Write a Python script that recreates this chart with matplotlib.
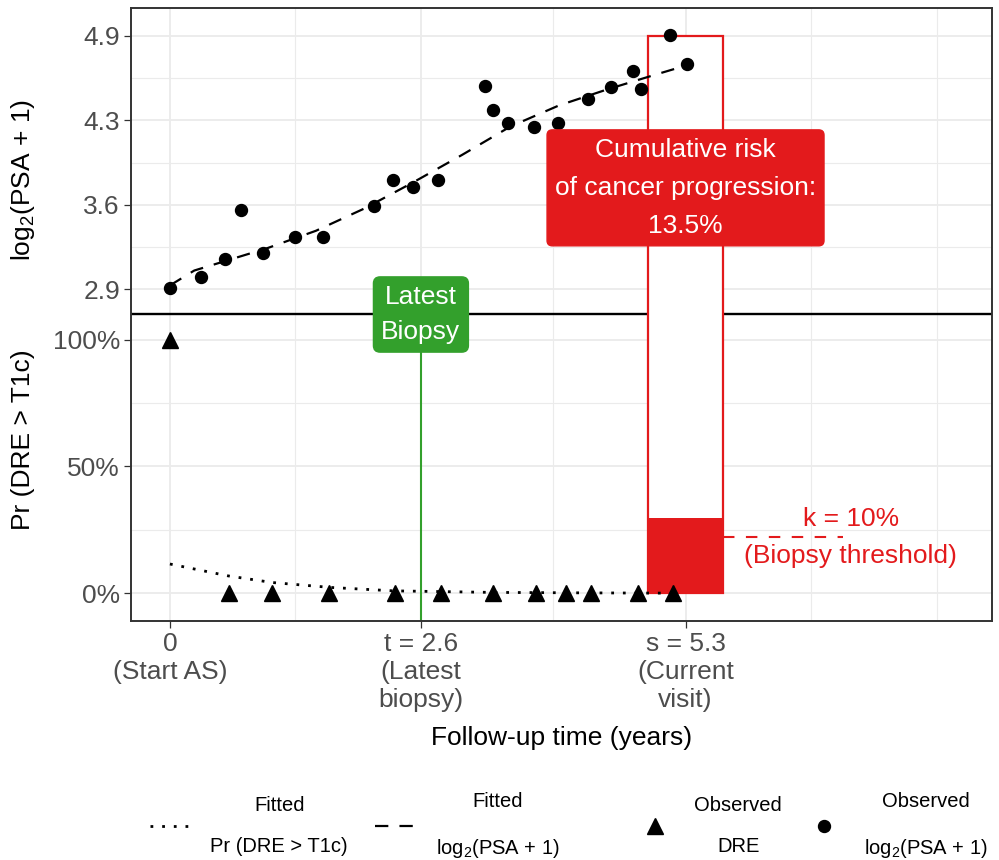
import numpy as np
import matplotlib
matplotlib.use("Agg")
import matplotlib.pyplot as plt
from matplotlib.lines import Line2D

plt.rcParams['font.family'] = ['Liberation Sans', 'DejaVu Sans']
plt.rcParams['mathtext.fontset'] = 'custom'
plt.rcParams['mathtext.rm'] = 'Liberation Sans'

RED = '#E31A1C'
GREEN = '#33A02C'

# key times (years)
t_biopsy = 2.58
s_visit = 5.3

# observed PSA, log2(PSA + 1)
psa_time = [0, 0.32, 0.57, 0.73, 0.96, 1.29, 1.57, 2.10, 2.29, 2.50, 2.76,
            3.24, 3.32, 3.47, 3.74, 3.99, 4.30, 4.53, 4.76, 4.84, 5.14, 5.31]
psa_obs = [2.91, 3.00, 3.14, 3.54, 3.19, 3.32, 3.32, 3.57, 3.78, 3.72, 3.78,
           4.54, 4.34, 4.24, 4.21, 4.24, 4.43, 4.53, 4.66, 4.51, 4.95, 4.71]

# fitted PSA profile
psa_fit_time = [0, 0.25, 0.5, 0.75, 1.0, 1.5, 2.0, 2.5, 3.0, 3.5, 4.0, 4.5, 5.0, 5.3]
psa_fit = [2.93, 3.05, 3.11, 3.17, 3.23, 3.37, 3.55, 3.76, 3.98, 4.21, 4.38, 4.51, 4.63, 4.70]

# observed DRE (1 = above T1c)
dre_time = [0, 0.61, 1.05, 1.64, 2.31, 2.79, 3.32, 3.76, 4.07, 4.33, 4.81, 5.17]
dre_obs = [1, 0, 0, 0, 0, 0, 0, 0, 0, 0, 0, 0]

# fitted Pr(DRE > T1c)
dre_fit_time = [0, 0.6, 1.05, 1.65, 2.3, 3.3, 4.3, 5.1]
dre_fit = [0.115, 0.068, 0.042, 0.0225, 0.009, 0.003, 0.001, 0.0]

cum_risk = 0.135
threshold = 0.10

prob_ticks = [0, 0.5, 1.0]
prob_labels = ['0%', '50%', '100%']
psa_ticks = [2.9, 3.58, 4.26, 4.94]

# PSA panel sits on top of the probability panel (y from 1.2 to 2.2)
PSA_LO, PSA_HI = psa_ticks[0], psa_ticks[-1]
TOP_LO, TOP_HI = 1.2, 2.2


def psa_to_y(v):
    return TOP_LO + (np.asarray(v) - PSA_LO) / (PSA_HI - PSA_LO) * (TOP_HI - TOP_LO)


DOTTED = (0, (1, 3.2))
DASHED = (0, (6, 5))

fig = plt.figure(figsize=(9.99, 8.6), dpi=100)
ax = fig.add_axes([131 / 999, 1 - 621 / 860, 861 / 999, 613 / 860])
ax.set_xlim(-0.40, 8.45)
ax.set_ylim(-0.11, 2.31)

# ticks and grid
ax.set_xticks([0, t_biopsy, s_visit],
              labels=["0\n(Start AS)",
                      f"t = {t_biopsy:.1f}\n(Latest\nbiopsy)",
                      f"s = {s_visit:.1f}\n(Current\nvisit)"])
ax.set_xticks([t_biopsy / 2, (t_biopsy + s_visit) / 2,
               s_visit + t_biopsy / 2, s_visit + t_biopsy], minor=True)
y_major = list(prob_ticks) + list(psa_to_y(psa_ticks))
ax.set_yticks(y_major, labels=prob_labels + [f"{v:.1f}" for v in psa_ticks])
ax.set_yticks([(a + b) / 2 for a, b in zip(y_major[:-1], y_major[1:])], minor=True)
ax.tick_params(which='major', length=5, width=0.9, color='#333333',
               labelcolor='#4D4D4D', labelsize=19, pad=3)
ax.tick_params(which='minor', length=0)
ax.grid(which='major', color='#EBEBEB', lw=1.3)
ax.grid(which='minor', color='#EBEBEB', lw=0.8)
ax.set_axisbelow(True)
for sp in ax.spines.values():
    sp.set_color('#333333')
    sp.set_linewidth(1.4)

# separator between the two panels
ax.axhline(1.1, color='black', lw=1.7, zorder=1.5)

# cumulative risk bar
bar_w = 0.78
ax.bar(s_visit, TOP_HI, width=bar_w, facecolor='white', edgecolor=RED, lw=1.6, zorder=2)
ax.bar(s_visit, cum_risk * TOP_HI, width=bar_w, color=RED, zorder=2.1)
ax.plot([s_visit + bar_w / 2, 6.92], [threshold * TOP_HI] * 2, color=RED,
        ls=(0, (5.5, 5.5)), lw=1.5, zorder=2)
ax.text(7.0, threshold * TOP_HI, f"k = {threshold:.0%}\n(Biopsy threshold)", color=RED,
        fontsize=19, ha='center', va='center', linespacing=1.72)

# latest biopsy
ax.plot([t_biopsy, t_biopsy], [-0.11, 1.1], color=GREEN, lw=1.5, zorder=2)
ax.text(t_biopsy, 1.1, "Latest\nBiopsy", color='white', fontsize=19, ha='center',
        va='center', linespacing=1.6, zorder=6,
        bbox=dict(boxstyle='round,pad=0.3,rounding_size=0.25', fc=GREEN, ec=GREEN))

# data
ax.plot(dre_fit_time, dre_fit, color='black', ls=DOTTED, lw=2.0, zorder=3)
ax.plot(psa_fit_time, psa_to_y(psa_fit), color='black', ls=DASHED, lw=1.6, zorder=3)
ax.plot(psa_time, psa_to_y(psa_obs), 'o', color='black', ms=8.6, zorder=4)
ax.plot(dre_time, dre_obs, '^', color='black', ms=11.5, zorder=4)

ax.text(s_visit, 1.6, f"Cumulative risk\nof cancer progression:\n{cum_risk:.1%}",
        color='white', fontsize=19, ha='center', va='center', linespacing=1.74, zorder=6,
        bbox=dict(boxstyle='round,pad=0.3,rounding_size=0.2', fc=RED, ec=RED))

# axis titles
fig.text(23 / 999, 1 - 180 / 860, r"log$_\mathregular{2}$(PSA + 1)", rotation=90,
         ha='center', va='center', fontsize=19)
fig.text(23 / 999, 1 - 440 / 860, "Pr (DRE > T1c)", rotation=90,
         ha='center', va='center', fontsize=19)
fig.text(561.5 / 999, 1 - 738 / 860, "Follow-up time (years)", ha='center',
         va='center', fontsize=19)

# legends
line_handles = [Line2D([], [], color='black', ls=DOTTED, lw=2.0),
                Line2D([], [], color='black', ls=DASHED, lw=1.6)]
line_labels = ["Fitted\nPr (DRE > T1c)", "Fitted\nlog$_\\mathregular{2}$(PSA + 1)"]
pt_handles = [Line2D([], [], color='black', ls='none', marker='^', ms=11.5),
              Line2D([], [], color='black', ls='none', marker='o', ms=8.6)]
pt_labels = ["Observed\nDRE", "Observed\nlog$_\\mathregular{2}$(PSA + 1)"]

leg1 = fig.legend(line_handles, line_labels, loc='center left', ncol=2,
                  bbox_to_anchor=(150 / 999, 1 - 826 / 860), frameon=False,
                  fontsize=14.5, handlelength=2.0, handletextpad=1.0,
                  columnspacing=1.35, borderpad=0, borderaxespad=0)
leg2 = fig.legend(pt_handles, pt_labels, loc='center left', ncol=2,
                  bbox_to_anchor=(643 / 999, 1 - 826 / 860), frameon=False,
                  fontsize=14.5, handlelength=1.2, handletextpad=1.35,
                  columnspacing=1.5, borderpad=0, borderaxespad=0)
for leg in (leg1, leg2):
    for txt in leg.get_texts():
        txt.set_multialignment('center')
        txt.set_linespacing(2.5)

fig.savefig("out.png", dpi=100)
